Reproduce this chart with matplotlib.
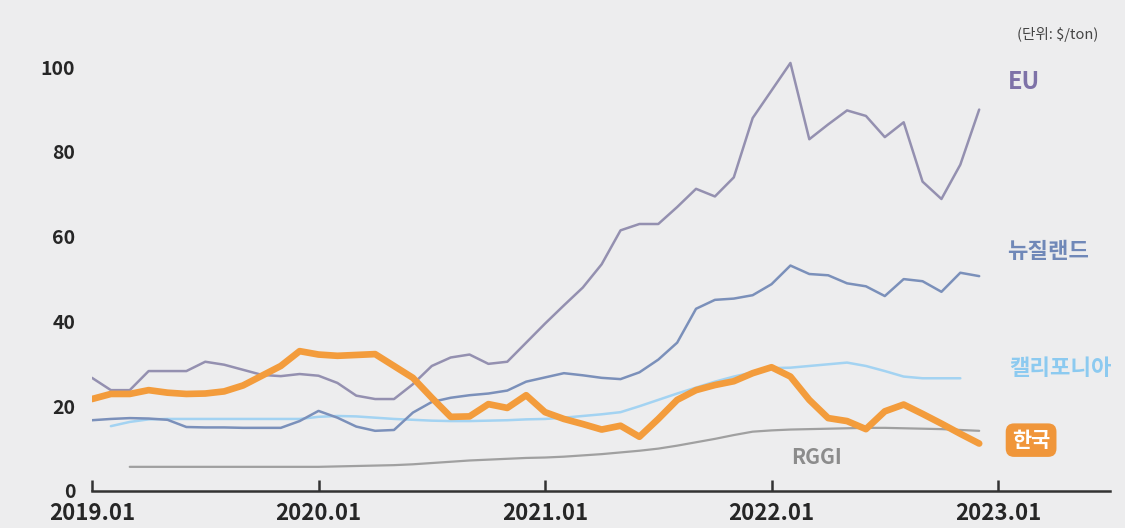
import numpy as np
import matplotlib.pyplot as plt

plt.rcParams['font.family'] = ['Noto Sans CJK KR', 'DejaVu Sans']

# monthly carbon prices ($/ton), 2019.01 - 2022.12
eu = [26.7, 23.8, 23.8, 28.3, 28.3, 28.3, 30.5, 29.8, 28.6, 27.4, 27.1, 27.6,
      27.2, 25.5, 22.5, 21.7, 21.7, 25.2, 29.5, 31.5, 32.2, 30.0, 30.5, 35.0,
      39.5, 43.8, 48.0, 53.5, 61.5, 63.0, 63.0, 67.0, 71.3, 69.5, 74.0, 88.0,
      94.5, 101.0, 83.0, 86.5, 89.8, 88.5, 83.5, 87.0, 73.0, 68.9, 77.0, 90.0]
nz = [16.7, 17.0, 17.2, 17.1, 16.8, 15.1, 15.0, 15.0, 14.9, 14.9, 14.9, 16.5,
      18.9, 17.3, 15.2, 14.2, 14.4, 18.5, 21.0, 22.0, 22.6, 23.0, 23.7, 25.8,
      26.8, 27.8, 27.3, 26.7, 26.4, 28.0, 31.0, 35.0, 43.0, 45.1, 45.4, 46.2,
      48.8, 53.2, 51.2, 50.9, 49.0, 48.3, 46.0, 50.0, 49.5, 47.0, 51.5, 50.7]
california = [None, 15.3, 16.3, 16.9, 17.0, 17.0, 17.0, 17.0, 17.0, 17.0, 17.0, 17.0,
              17.5, 17.7, 17.6, 17.3, 17.0, 16.8, 16.6, 16.5, 16.5, 16.6, 16.7, 16.9,
              17.0, 17.3, 17.7, 18.1, 18.6, 20.0, 21.5, 23.0, 24.4, 25.8, 27.0, 28.0,
              29.0, 29.1, 29.5, 29.9, 30.3, 29.5, 28.3, 27.0, 26.6, 26.6, 26.6, None]
rggi = [None, None, 5.7, 5.7, 5.7, 5.7, 5.7, 5.7, 5.7, 5.7, 5.7, 5.7,
        5.7, 5.8, 5.9, 6.0, 6.1, 6.3, 6.6, 6.9, 7.2, 7.4, 7.6, 7.8,
        7.9, 8.1, 8.4, 8.7, 9.1, 9.5, 10.0, 10.7, 11.5, 12.3, 13.2, 14.0,
        14.3, 14.5, 14.6, 14.7, 14.8, 14.9, 14.9, 14.8, 14.7, 14.6, 14.4, 14.2]
korea = [21.7, 22.9, 22.9, 23.8, 23.2, 22.9, 23.0, 23.5, 24.9, 27.2, 29.5, 33.0,
         32.2, 31.9, 32.1, 32.3, 29.5, 26.7, 22.0, 17.5, 17.6, 20.5, 19.6, 22.6,
         18.6, 17.0, 15.8, 14.5, 15.4, 12.8, 17.0, 21.5, 23.8, 25.0, 25.9, 27.8,
         29.2, 27.0, 21.5, 17.2, 16.5, 14.6, 18.8, 20.4, 18.2, 15.9, 13.5, 11.2]

year_labels = ['2019.01', '2020.01', '2021.01', '2022.01', '2023.01']
months = np.arange(len(korea))

def arr(v):
    return np.array([np.nan if x is None else x for x in v], dtype=float)

bg = '#ededee'
fig = plt.figure(figsize=(11.25, 5.28), dpi=100, facecolor=bg)
ax = fig.add_axes([92/1125, 37/528, (1110-92)/1125, 445/528])
ax.set_facecolor(bg)

ax.plot(months, arr(rggi), color='#a0a0a0', lw=1.6, solid_capstyle='round')
ax.plot(months, arr(california), color='#a3d3f2', lw=1.8, solid_capstyle='round')
ax.plot(months, arr(nz), color='#7b90ba', lw=1.8, solid_capstyle='round')
ax.plot(months, arr(eu), color='#9490b0', lw=1.8, solid_capstyle='round')
ax.plot(months, arr(korea), color='#f39c3c', lw=4.8, solid_capstyle='round',
        solid_joinstyle='round')

ax.set_xlim(0, 53.93)
ax.set_ylim(0, 105)

for s in ['top', 'right', 'left']:
    ax.spines[s].set_visible(False)
ax.spines['bottom'].set_color('#333333')
ax.spines['bottom'].set_linewidth(1.8)

ax.set_xticks(np.arange(0, 49, 12))
ax.set_xticklabels(year_labels)
ax.tick_params(axis='x', direction='in', length=8, width=1.8, color='#333333',
               pad=8, labelsize=16)
ax.set_yticks(np.arange(0, 101, 20))
ax.tick_params(axis='y', length=0, pad=12, labelsize=14)
for lab in ax.get_xticklabels() + ax.get_yticklabels():
    lab.set_fontweight('bold')
    lab.set_color('#262626')

# unit note and series labels at the right end
fig.text(1098/1125, 1 - 35/528, '(단위: $/ton)', ha='right', va='center',
         fontsize=10.5, color='#444444')
ax.text(48.5, 96.5, 'EU', fontsize=17, fontweight='bold', color='#7e72a8',
        va='center')
ax.text(48.5, 56.6, '뉴질랜드', fontsize=16, fontweight='bold', color='#7088b8',
        va='center')
ax.text(48.6, 29, '캘리포니아', fontsize=16, fontweight='bold', color='#8ccaf0',
        va='center')
ax.text(38.4, 8, 'RGGI', fontsize=15, fontweight='bold', color='#8c8c8c',
        va='center', ha='center')
ax.text(49.75, 12, '한국', fontsize=15, fontweight='bold', color='white',
        va='center', ha='center',
        bbox=dict(boxstyle='round,pad=0.3,rounding_size=0.4', fc='#f0963a',
                  ec='none'))

fig.savefig('out.png', dpi=100, facecolor=bg)
